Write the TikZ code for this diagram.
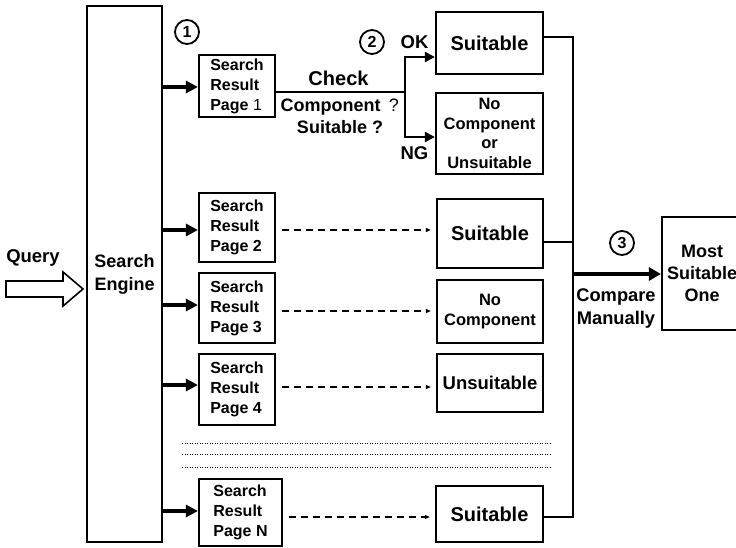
\documentclass[tikz,border=0pt]{standalone}
\usepackage{fontspec}
\setmainfont{Liberation Sans}
\usetikzlibrary{arrows.meta,calc}
\newcommand\fnt[2]{\fontsize{#1}{#2}\selectfont\bfseries}

\begin{document}
\begin{tikzpicture}[x=1pt,y=-1pt,
  box/.style={draw,line width=2.2pt,inner sep=0pt,align=center},
  lbl/.style={inner sep=0pt,align=center},
  num/.style={draw,circle,line width=1.8pt,minimum size=24pt,inner sep=0pt,font=\fnt{16}{18}},
  page/.style={box,align=left,font=\fnt{16}{20}},
  bigarr/.style={line width=3.3pt,-{Triangle[length=12pt,width=12pt]}},
  forkarr/.style={line width=2.5pt,-{Triangle[length=10pt,width=10pt]}},
  cmparr/.style={line width=4pt,-{Triangle[length=12pt,width=13pt]}},
  dasharr/.style={line width=1.2pt,dash pattern=on 7pt off 5pt,-{Triangle[length=5pt,width=4pt]},shorten <=6pt,shorten >=5pt},
  wire/.style={line width=2.3pt},
  dotline/.style={line width=1pt,dash pattern=on 1pt off 1.5pt},
]
\useasboundingbox (0,0) rectangle (736,548);
\clip (0,0) rectangle (736,548);

% search engine column
\node[box,minimum width=75pt,minimum height=536pt,font=\fnt{18}{23}] (engine) at (124.5,274) {Search\\Engine};

% search result pages
\node[page,minimum width=76pt,minimum height=62pt] (p1) at (237,86) {Search\\Result\\Page {\mdseries 1}};
\node[page,minimum width=76pt,minimum height=69pt] (p2) at (237,227.5) {Search\\Result\\Page 2};
\node[page,minimum width=76pt,minimum height=70pt] (p3) at (237,308) {Search\\Result\\Page 3};
\node[page,minimum width=76pt,minimum height=71pt] (p4) at (237,389.5) {Search\\Result\\Page 4};
\node[page,minimum width=83pt,minimum height=67pt] (pN) at (240.5,512.5) {Search\\Result\\Page N};

% outcomes
\node[box,minimum width=107pt,minimum height=62pt,font=\fnt{20}{24}] (s1) at (489.5,43) {Suitable};
\node[box,minimum width=107pt,minimum height=81pt,font=\fnt{16.5}{19.5}] (nc1) at (489.5,133.5) {No\\Component\\or\\Unsuitable};
\node[box,minimum width=106pt,minimum height=69pt,font=\fnt{20}{24}] (s2) at (490,233.5) {Suitable};
\node[box,minimum width=106pt,minimum height=63pt,font=\fnt{16.5}{20}] (nc2) at (490,311.5) {No\\Component};
\node[box,minimum width=106pt,minimum height=58pt,font=\fnt{18.5}{22}] (us) at (490,383) {Unsuitable};
\node[box,minimum width=107pt,minimum height=56pt,font=\fnt{20}{24}] (sN) at (489.5,514) {Suitable};

% final choice
\node[box,minimum width=80pt,minimum height=113pt,font=\fnt{18}{22}] (most) at (702,273.5) {Most\\Suitable\\One};

% step numbers
\node[num] (n1) at (187,32) {1};
\node[num] (n2) at (372,42) {2};
\node[num] (n3) at (622,243) {3};

% labels
\node[lbl,font=\fnt{18.5}{22}] (query) at (33,258) {Query};
\node[lbl,font=\fnt{20}{24}] (check) at (338.5,78) {Check};
\node[lbl,font=\fnt{18}{22}] (comp) at (330.5,107) {Component};
\node[lbl,font=\fontsize{18}{22}\selectfont] (qm) at (394,105) {?};
\node[lbl,font=\fnt{18}{22}] (suit) at (340,127) {Suitable ?};
\node[lbl,font=\fnt{18.5}{22}] (ok) at (414.5,42) {OK};
\node[lbl,font=\fnt{18.5}{22}] (ng) at (414.5,153) {NG};
\node[lbl,font=\fnt{18.3}{23}] (cmp) at (616,308.5) {Compare\\Manually};

% query input arrow
\draw[line width=1.6pt,line join=miter] (6,281) -- (63,281) -- (63,272) -- (83,289) -- (63,306) -- (63,297) -- (6,297) -- cycle;

% engine to result pages
\foreach \p/\y in {p1/87,p2/230,p3/305,p4/385,pN/511}
  \draw[bigarr] (engine.east |- 0,\y) -- (\p.west |- 0,\y);

% check of page 1
\coordinate (fork) at (405,92);
\coordinate (okturn) at (405,57);
\coordinate (ngturn) at (405,137);
\draw[wire] (p1.east |- fork) -- (fork);
\draw[wire] (okturn) -- (ngturn);
\draw[forkarr] ([xshift=-1.2pt]okturn) -- (okturn -| s1.west);
\draw[forkarr] ([xshift=-1.2pt]ngturn) -- (ngturn -| nc1.west);

% remaining pages
\draw[dasharr] (p2.east |- 0,230) -- (s2.west |- 0,230);
\draw[dasharr] (p3.east |- 0,311) -- (nc2.west |- 0,311);
\draw[dasharr] (p4.east |- 0,387) -- (us.west |- 0,387);
\draw[dasharr] (pN.east |- 0,517) -- (sN.west |- 0,517);

% omitted pages
\foreach \y in {443,454,467}
  \draw[dotline] (182,\y) -- (550,\y);

% collect suitable results
\coordinate (ctop) at (573,37);
\coordinate (cbot) at (573,517);
\draw[wire,line join=miter] (s1.east |- ctop) -- (ctop) -- (cbot) -- (sN.east |- cbot);
\draw[wire] (s2.east |- 0,242) -- (573,242);
\draw[cmparr] (572,274) -- (most.west |- 0,274);
\end{tikzpicture}
\end{document}
